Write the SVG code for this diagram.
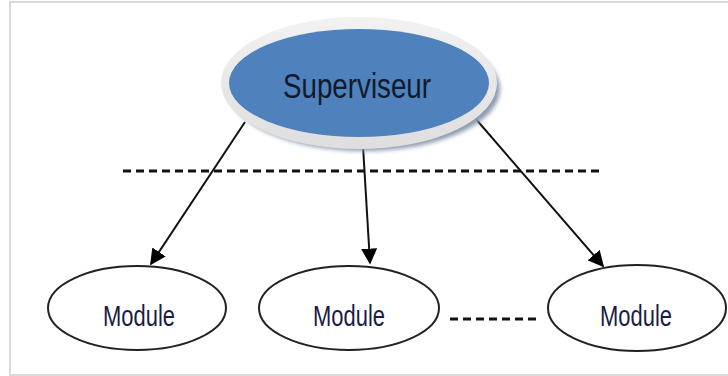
<svg xmlns="http://www.w3.org/2000/svg" width="728" height="376" viewBox="0 0 728 376">
<style>
.mod{fill:#fff;stroke:#222;stroke-width:2}
.mt{font-family:"Liberation Sans",Arial,sans-serif;font-size:29px;fill:#1b1b45;text-anchor:middle}
.con{stroke:#111;stroke-width:2;fill:none}
.dash{stroke:#111;stroke-width:3;stroke-dasharray:8,5;fill:none}
</style>
<defs>
<marker id="ah" viewBox="0 0 10 10" refX="9" refY="5" markerWidth="8" markerHeight="8" orient="auto" markerUnits="strokeWidth">
<path d="M0,0 L10,5 L0,10 z" fill="#000"/>
</marker>
<filter id="blur" x="-10%" y="-10%" width="120%" height="130%"><feGaussianBlur stdDeviation="2"/></filter>
<linearGradient id="ring" x1="0" y1="0" x2="0" y2="1">
<stop offset="0" stop-color="#f2f2f2"/><stop offset="1" stop-color="#dedede"/>
</linearGradient>
</defs>
<rect x="0" y="0" width="728" height="376" fill="#fff"/>
<rect x="10" y="2" width="730" height="373" fill="none" stroke="#d9d9d9" stroke-width="2"/>
<g id="connectors">
<line class="dash" x1="123" y1="171" x2="604" y2="171"/>
<line class="dash" x1="450" y1="319" x2="537" y2="319"/>
<line class="con" x1="245" y1="122" x2="151" y2="264" marker-end="url(#ah)"/>
<line class="con" x1="363" y1="146" x2="370" y2="263" marker-end="url(#ah)"/>
<line class="con" x1="475" y1="118" x2="603" y2="266" marker-end="url(#ah)"/>
</g>
<g id="superviseur">
<ellipse cx="364" cy="89" rx="136" ry="62" fill="#8c9bb0" filter="url(#blur)"/>
<ellipse cx="359" cy="83" rx="138" ry="66" fill="url(#ring)"/>
<ellipse cx="359" cy="83" rx="130" ry="54" fill="#4f81bd"/>
<text x="357" y="98" font-family="'Liberation Sans',Arial,sans-serif" font-size="35" fill="#111a2a" text-anchor="middle" textLength="148" lengthAdjust="spacingAndGlyphs">Superviseur</text>
</g>
<g id="module1">
<ellipse class="mod" cx="137" cy="308" rx="89" ry="42"/>
<text class="mt" x="139" y="326" textLength="72" lengthAdjust="spacingAndGlyphs">Module</text>
</g>
<g id="module2">
<ellipse class="mod" cx="349" cy="308" rx="90" ry="42"/>
<text class="mt" x="349" y="326" textLength="72" lengthAdjust="spacingAndGlyphs">Module</text>
</g>
<g id="module3">
<ellipse class="mod" cx="637" cy="308" rx="89" ry="43"/>
<text class="mt" x="636" y="326" textLength="72" lengthAdjust="spacingAndGlyphs">Module</text>
</g>
</svg>
